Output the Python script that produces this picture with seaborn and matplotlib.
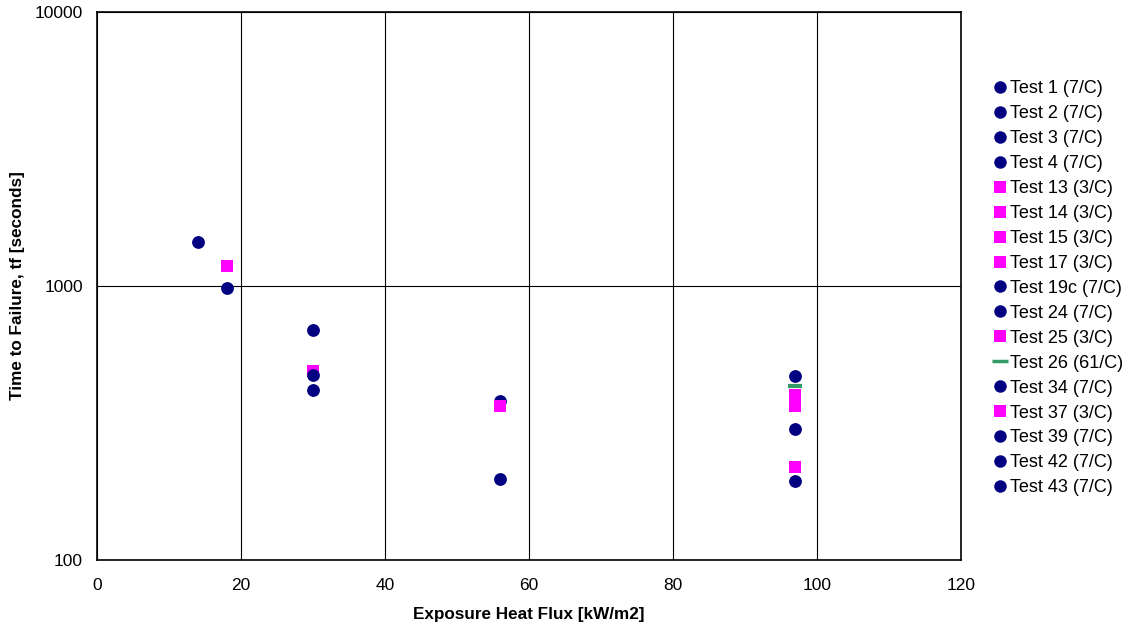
import matplotlib
matplotlib.use("Agg")
import matplotlib.pyplot as plt
import seaborn as sns
import pandas as pd
from matplotlib.ticker import FixedLocator, FixedFormatter, NullLocator
from matplotlib.lines import Line2D

tests = ["Test 1 (7/C)", "Test 2 (7/C)", "Test 3 (7/C)", "Test 4 (7/C)",
         "Test 13 (3/C)", "Test 14 (3/C)", "Test 15 (3/C)", "Test 17 (3/C)",
         "Test 19c (7/C)", "Test 24 (7/C)", "Test 25 (3/C)", "Test 26 (61/C)",
         "Test 34 (7/C)", "Test 37 (3/C)", "Test 39 (7/C)", "Test 42 (7/C)",
         "Test 43 (7/C)"]
heat_flux = [14, 18, 30, 56, 56, 30, 18, 97, 30, 30, 97, 97, 56, 97, 97, 97, 97]
time_to_failure = [1450, 980, 690, 380, 365, 490, 1180, 400, 473, 417, 365, 431,
                   198, 218, 470, 301, 194]
cable_type = ["7/C", "7/C", "7/C", "7/C", "3/C", "3/C", "3/C", "3/C", "7/C", "7/C",
              "3/C", "61/C", "7/C", "3/C", "7/C", "7/C", "7/C"]

x_ticks = [0, 20, 40, 60, 80, 100, 120]
y_ticks = [100, 1000, 10000]

style_map = {"7/C": ("o", "#000080", 85),
             "3/C": ("s", "#FF00FF", 75),
             "61/C": ("_", "#339966", 110)}

df = pd.DataFrame({"test": tests, "x": heat_flux, "y": time_to_failure, "type": cable_type})

sns.set_theme(style="white")
plt.rcParams["font.family"] = ["Liberation Sans", "DejaVu Sans"]
plt.rcParams["text.color"] = "black"
plt.rcParams["axes.labelcolor"] = "black"

fig = plt.figure(figsize=(11.30, 6.29), dpi=100)
ax = fig.add_axes([97/1130, 1-560/629, (961-97)/1130, (560-12)/629])

handles = []
for i, row in df.iterrows():
    m, c, s = style_map[row["type"]]
    sub = df.iloc[[i]]
    if m == "_":
        sns.scatterplot(data=sub, x="x", y="y", marker="_", s=s, color=c,
                        linewidth=3, ax=ax, legend=False, zorder=3 + i)
        handles.append(Line2D([], [], marker="_", linestyle="none", color=c,
                              markersize=11, markeredgewidth=2.5, label=row["test"]))
    else:
        sns.scatterplot(data=sub, x="x", y="y", marker=m, s=s, color=c,
                        edgecolor=c, linewidth=0, ax=ax, legend=False, zorder=3 + i)
        handles.append(Line2D([], [], marker=m, linestyle="none", color=c,
                              markeredgewidth=0, markersize=9 if m == "o" else 8.5,
                              label=row["test"]))

ax.set_yscale("log")
ax.set_xlim(0, 120)
ax.set_ylim(100, 10000)
ax.xaxis.set_major_locator(FixedLocator(x_ticks))
ax.yaxis.set_major_locator(FixedLocator(y_ticks))
ax.yaxis.set_major_formatter(FixedFormatter([str(v) for v in y_ticks]))
ax.yaxis.set_minor_locator(NullLocator())

ax.grid(True, which="major", color="#000000", linewidth=0.8)
ax.set_axisbelow(True)
for sp in ax.spines.values():
    sp.set_color("black")
    sp.set_linewidth(1.2)
    sp.set_visible(True)

ax.tick_params(axis="both", which="major", direction="out", length=5, width=1,
               color="black", labelsize=12.5, labelcolor="black")
ax.tick_params(axis="x", pad=8)
ax.tick_params(axis="y", pad=5)
ax.set_xlabel("Exposure Heat Flux [kW/m2]", fontsize=12.3, fontweight="bold", color="black")
ax.set_ylabel("Time to Failure, tf [seconds]", fontsize=12.3, fontweight="bold", color="black")
ax.xaxis.set_label_coords(0.5, -(614-560)/548, transform=ax.transAxes)
ax.yaxis.set_label_coords(-(97-18)/864, 0.5, transform=ax.transAxes)
ax.xaxis.label.set_va("center")
ax.yaxis.label.set_va("center")

fig.legend(handles=handles, loc="upper left", bbox_to_anchor=(987/1130, 1-73/629),
           frameon=False, fontsize=13, handlelength=0.6, handletextpad=0.3,
           labelspacing=0.44, borderaxespad=0, labelcolor="black")

fig.savefig("out.png", dpi=100)
